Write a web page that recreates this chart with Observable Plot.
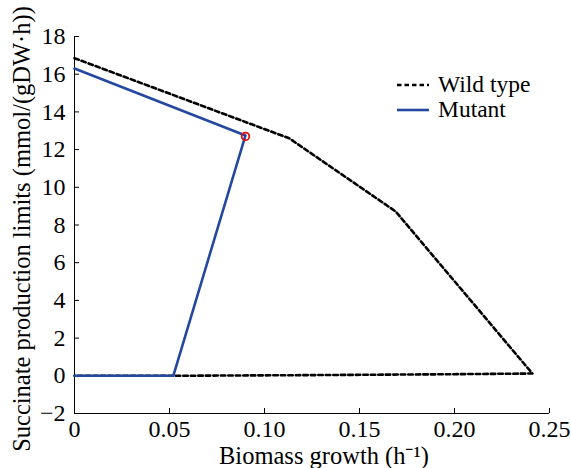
<!DOCTYPE html>
<html>
<head>
<meta charset="utf-8">
<script src="https://cdn.jsdelivr.net/npm/d3@7"></script>
<script src="https://cdn.jsdelivr.net/npm/@observablehq/plot@0.6"></script>
<style>
  html, body { margin: 0; padding: 0; background: #fff; }
  #wrap { position: relative; width: 571px; height: 468px; }
  #wrap, #wrap * { font-family: "Liberation Serif", "Times New Roman", serif !important; }
  #legend { position: absolute; left: 396px; top: 72px; font-size: 23.5px; line-height: 25px; color: #000; }
  #legend .row { display: flex; align-items: center; height: 25px; }
  #legend svg { margin-right: 8px; }
</style>
</head>
<body>
<div id="wrap"></div>
<script>
// Wild type envelope (black dashed)
const wildX = [0, 0.113, 0.169, 0.241, 0.193, 0.13, 0.052, 0];
const wildY = [16.85, 12.6, 8.72, 0.12, 0.08, 0.04, 0, 0];
// Mutant envelope (blue)
const mutantX = [0, 0.09, 0.052, 0];
const mutantY = [16.3, 12.75, 0, 0];
// Marked point (red circle)
const markX = [0.09];
const markY = [12.7];
// Ticks
const xTicks = [0, 0.05, 0.10, 0.15, 0.20, 0.25];
const xTickLabels = ["0", "0.05", "0.10", "0.15", "0.20", "0.25"];
const yTicks = [-2, 0, 2, 4, 6, 8, 10, 12, 14, 16, 18];
const series = ["Wild type", "Mutant"];
const xLabel = "Biomass growth (h\u207B\u00B9)";
const yLabel = "Succinate production limits (mmol/(gDW\u00B7h))";

const wild = wildX.map((x, i) => ({x, y: wildY[i]}));
const mutant = mutantX.map((x, i) => ({x, y: mutantY[i]}));
const mark = markX.map((x, i) => ({x, y: markY[i]}));

const blue = "#2448a0";
const serif = "Liberation Serif";

const chart = Plot.plot({
  width: 571,
  height: 468,
  marginLeft: 74,
  marginRight: 22,
  marginTop: 36,
  marginBottom: 55,
  style: "font-family: 'Liberation Serif', serif; font-size: 23px; color: #000; background: #fff; overflow: visible;",
  x: {domain: [0, 0.25]},
  y: {domain: [-2, 18]},
  marks: [
    Plot.axisX({ticks: xTicks, tickFormat: (d) => xTickLabels[xTicks.indexOf(d)], tickSize: -5, tickPadding: 11, label: null, fontSize: 24, fontFamily: serif}),
    Plot.axisY({ticks: yTicks, tickSize: -5, tickPadding: 14, label: null, fontSize: 24, fontFamily: serif}),
    Plot.ruleX([0], {stroke: "#000", strokeWidth: 1}),
    Plot.ruleY([-2], {stroke: "#000", strokeWidth: 1}),
    Plot.line(wild, {x: "x", y: "y", stroke: "#000", strokeWidth: 2.6, strokeDasharray: "4.5,3"}),
    Plot.line(mutant, {x: "x", y: "y", stroke: blue, strokeWidth: 2.6}),
    Plot.dot(mark, {x: "x", y: "y", r: 3.8, stroke: "#e01010", strokeWidth: 1.8, fill: "none"}),
    Plot.text([xLabel], {frameAnchor: "bottom", dy: 50, dx: 12, fontSize: 24.5, fontFamily: serif}),
    Plot.text([yLabel], {frameAnchor: "left", textAnchor: "middle", rotate: -90, dx: -52, dy: 4, fontSize: 24.5, fontFamily: serif})
  ]
});
document.getElementById("wrap").appendChild(chart);

const legend = document.createElement("div");
legend.id = "legend";
const styles = [
  {stroke: "#000", dash: "4.5,3"},
  {stroke: blue, dash: null}
];
series.forEach((name, i) => {
  const row = document.createElement("div");
  row.className = "row";
  const s = styles[i];
  row.innerHTML = `<svg width="34" height="10"><line x1="1" y1="5" x2="33" y2="5" stroke="${s.stroke}" stroke-width="2.6" ${s.dash ? `stroke-dasharray="${s.dash}"` : ""}/></svg><span>${name}</span>`;
  legend.appendChild(row);
});
document.getElementById("wrap").appendChild(legend);
</script>
</body>
</html>
